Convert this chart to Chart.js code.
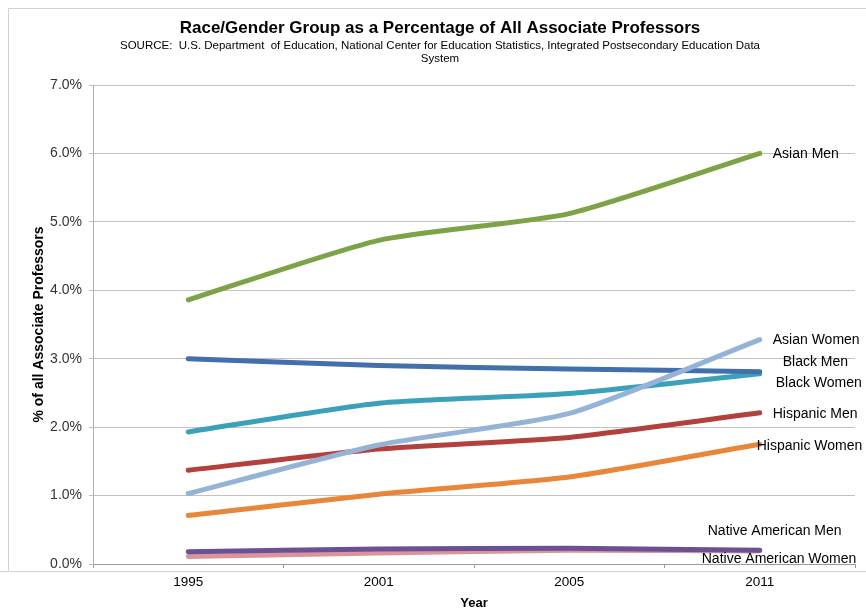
<!DOCTYPE html>
<html>
<head>
<meta charset="utf-8">
<script src="https://cdn.jsdelivr.net/npm/chart.js@4.4.1/dist/chart.umd.min.js"></script>
<style>
  html, body { margin: 0; padding: 0; background: #fff; }
  #wrap { width: 866px; height: 611px; position: relative; }
</style>
</head>
<body>
<div id="wrap"><canvas id="chart" width="866" height="611"></canvas></div>
<script>
// data (percent of all associate professors)
let years = ['1995', '2001', '2005', '2011'];
let asian_men = [3.86, 4.73, 5.12, 6.00];
let asian_women = [1.03, 1.74, 2.20, 3.28];
let black_men = [3.00, 2.90, 2.85, 2.81];
let black_women = [1.93, 2.35, 2.49, 2.78];
let hispanic_men = [1.37, 1.68, 1.85, 2.21];
let hispanic_women = [0.71, 1.02, 1.27, 1.75];
let native_men = [0.18, 0.22, 0.23, 0.20];
let native_women = [0.11, 0.16, 0.20, 0.19];

let y_ticks = [0, 1, 2, 3, 4, 5, 6, 7];

let font_main = '"Liberation Sans", Arial, sans-serif';

// series: label, values, colour, label offset from last point (dx, dy)
let series = [
    ['Asian Men', asian_men, '#7da346', 13, 1],
    ['Asian Women', asian_women, '#95b3d7', 13, 1],
    ['Black Men', black_men, '#4170ad', 23, -10],
    ['Black Women', black_women, '#3ba1b8', 16, 9],
    ['Hispanic Men', hispanic_men, '#b3403d', 13, 1],
    ['Hispanic Women', hispanic_women, '#e8873a', -3, 2],
    ['Native American Men', native_men, '#6b5094', -52, -19],
    ['Native American Women', native_women, '#d9959a', -58, 8]
];

// title, subtitle and the grey frame of the original picture
let decorPlugin = {
    id: 'decor',
    beforeDraw(chart) {
        let ctx = chart.ctx;
        ctx.save();
        ctx.strokeStyle = '#cfd0d8';
        ctx.lineWidth = 1;
        ctx.beginPath();
        ctx.moveTo(8.5, 8.5); ctx.lineTo(866, 8.5);
        ctx.moveTo(8.5, 8.5); ctx.lineTo(8.5, 571.5);
        ctx.moveTo(0, 571.5); ctx.lineTo(866, 571.5);
        ctx.stroke();
        ctx.restore();
    },
    afterDraw(chart) {
        let ctx = chart.ctx;
        ctx.save();
        ctx.fillStyle = '#000';
        ctx.textAlign = 'center';
        ctx.textBaseline = 'middle';
        ctx.font = 'bold 17px ' + font_main;
        ctx.fillText('Race/Gender Group as a Percentage of All Associate Professors', 440, 28, 534);
        ctx.font = '11.5px ' + font_main;
        ctx.fillText('SOURCE:  U.S. Department  of Education, National Center for Education Statistics, Integrated Postsecondary Education Data', 440, 46, 640);
        ctx.fillText('System', 440, 59);
        ctx.restore();
    }
};

// series names at the end of each line
let endLabelPlugin = {
    id: 'endLabels',
    afterDatasetsDraw(chart) {
        let ctx = chart.ctx;
        ctx.save();
        ctx.font = '14px ' + font_main;
        ctx.fillStyle = '#000';
        ctx.textAlign = 'left';
        ctx.textBaseline = 'middle';
        series.forEach(function (s, i) {
            let pts = chart.getDatasetMeta(i).data;
            let p = pts[pts.length - 1];
            ctx.fillText(s[0], p.x + s[3], p.y + s[4]);
        });
        ctx.restore();
    }
};

let chartRace = new Chart(document.getElementById('chart'), {
    type: 'line',
    data: {
        labels: years,
        datasets: series.map(function (s) {
            return {
                label: s[0],
                data: s[1],
                borderColor: s[2],
                backgroundColor: s[2],
                borderWidth: 5,
                borderCapStyle: 'round',
                borderJoinStyle: 'round',
                pointRadius: 0,
                tension: 0.2,
                fill: false
            };
        })
    },
    options: {
        responsive: false,
        animation: false,
        devicePixelRatio: 1,
        layout: { padding: { top: 85, right: 11, left: 0, bottom: 0 } },
        plugins: {
            legend: { display: false },
            title: { display: false },
            tooltip: { enabled: false }
        },
        scales: {
            x: {
                offset: true,
                afterFit: function (scale) { scale.height = 47; },
                grid: {
                    offset: true,
                    drawOnChartArea: false,
                    drawTicks: true,
                    tickLength: 4,
                    color: '#9a9a9a'
                },
                border: { color: '#9a9a9a', width: 1 },
                ticks: {
                    color: '#000',
                    padding: 6,
                    font: { family: font_main, size: 13.5 }
                },
                title: {
                    display: true,
                    text: 'Year',
                    color: '#000',
                    padding: { top: 0, bottom: 0 },
                    font: { family: font_main, size: 13, weight: 'bold' }
                }
            },
            y: {
                min: 0,
                max: 7,
                afterFit: function (scale) { scale.width = 93; },
                afterBuildTicks: function (scale) {
                    scale.ticks = y_ticks.map(function (v) { return { value: v }; });
                },
                grid: {
                    color: '#c2c2c2',
                    tickLength: 4,
                    lineWidth: 1
                },
                border: { color: '#b0b0b0', width: 1 },
                ticks: {
                    color: '#333',
                    padding: 7,
                    font: { family: font_main, size: 14 },
                    callback: function (v) { return Number(v).toFixed(1) + '%'; }
                },
                title: {
                    display: true,
                    text: '% of all Associate Professors',
                    color: '#000',
                    padding: { top: 31, bottom: 0 },
                    font: { family: font_main, size: 14, weight: 'bold' }
                }
            }
        }
    },
    plugins: [decorPlugin, endLabelPlugin]
});
</script>
</body>
</html>
